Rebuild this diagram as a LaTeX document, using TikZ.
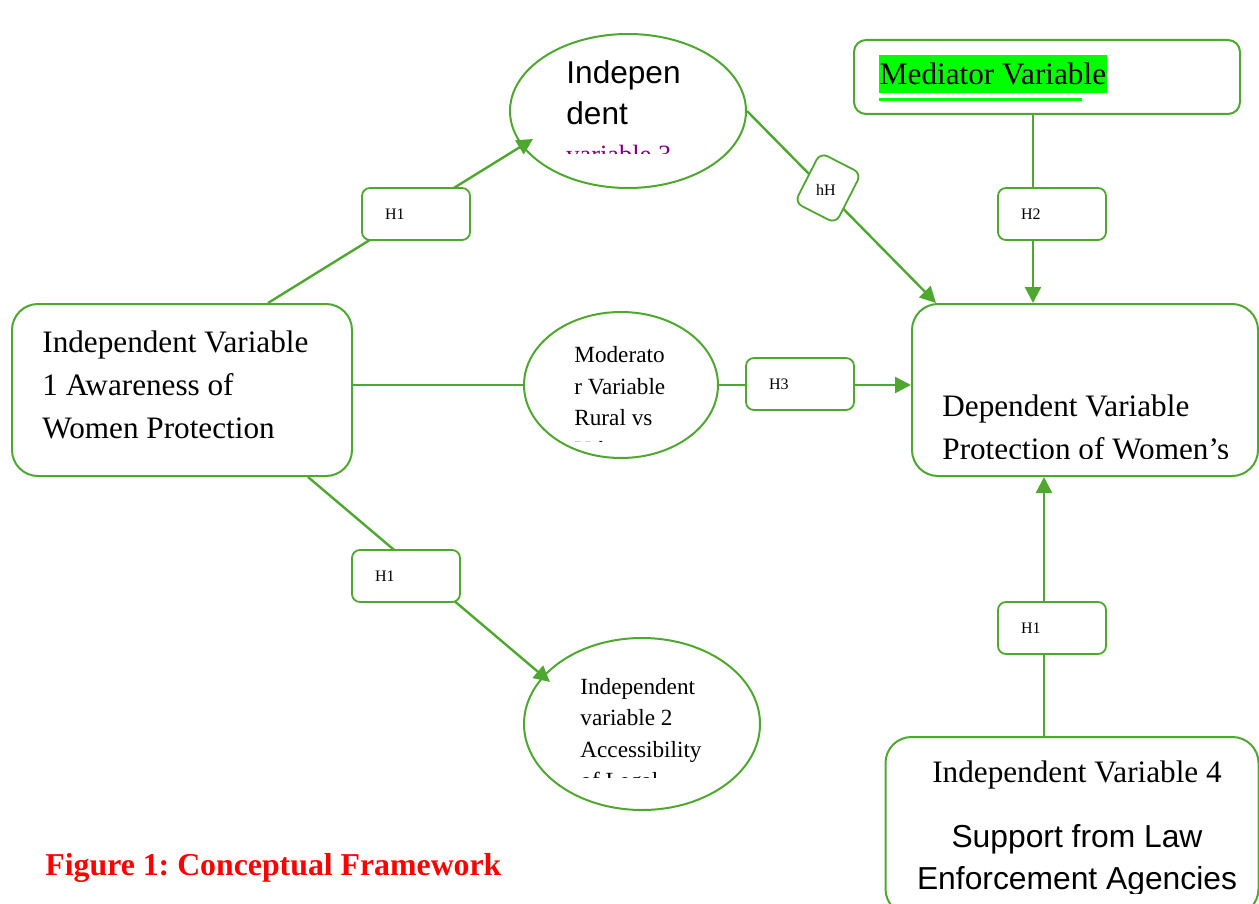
\documentclass[tikz,border=0pt]{standalone}
\usepackage{fontspec}
\setmainfont{Liberation Serif}
\newfontfamily\arialfont{Liberation Sans}
\usetikzlibrary{shapes.geometric,arrows.meta,calc}

\definecolor{framegreen}{RGB}{78,167,46}
\definecolor{markgreen}{RGB}{0,255,0}
\definecolor{labelpurple}{RGB}{128,0,128}

\tikzset{
  varbox/.style={draw=framegreen, line width=1pt, rounded corners=13pt, inner sep=0pt},
  varoval/.style={draw=framegreen, line width=1pt, ellipse, inner sep=0pt},
  hypbox/.style={draw=framegreen, line width=0.9pt, rounded corners=4pt, fill=white,
    minimum width=54pt, minimum height=26pt, text width=31pt, inner xsep=11.5pt,
    align=left, font=\fontsize{8}{9}\selectfont},
  link/.style={draw=framegreen, line width=1.2pt},
  linkarrow/.style={link, -{Triangle[length=8pt,width=8pt]}},
  bigtext/.style={align=left, inner sep=0pt, font=\fontsize{15.6}{21.5}\selectfont},
  smalltext/.style={align=left, inner sep=0pt, font=\fontsize{11.6}{15.8}\selectfont},
  sanstext/.style={align=left, inner sep=0pt, font=\arialfont\fontsize{15.8}{20.5}\selectfont},
}

\begin{document}
\begin{tikzpicture}[x=0.5pt,y=-0.5pt]
\useasboundingbox (0,0) rectangle (1259,904);

% variables
\node[varbox, minimum width=170pt, minimum height=86pt] (iva) at (182,390) {};
\node[varoval, minimum width=118pt, minimum height=77pt] (ivc) at (628,111) {};
\node[varoval, minimum width=97pt, minimum height=73pt] (mod) at (621,385) {};
\node[varoval, minimum width=118pt, minimum height=86pt] (ivb) at (642,724) {};
\node[varbox, rounded corners=6pt, minimum width=193pt, minimum height=37pt] (med) at (1047,77) {};
\node[varbox, minimum width=173pt, minimum height=86pt] (dv) at (1085,390) {};
\node[varbox, minimum width=186.5pt, minimum height=89pt] (ivd) at (1072,826) {};

% paths
\draw[linkarrow] ([xshift=43pt]iva.north) -- ($(ivc)+(-95,28)$);
\draw[linkarrow] ([xshift=63pt]iva.south) -- ($(ivb)+(-92,-42)$);
\draw[link] (mod.west -| iva.east) -- (mod.west);
\draw[linkarrow] (mod.east) -- (mod.east -| dv.west);
\draw[linkarrow] (ivc.east) -- ([xshift=12.5pt]dv.north west);
\draw[linkarrow] ([xshift=-7pt]med.south) -- ([xshift=-7pt]med.south |- dv.north);
\draw[linkarrow] ([xshift=-14pt]ivd.north) -- ([xshift=-14pt]ivd.north |- dv.south);

% hypotheses
\node[hypbox] (h1a) at (416,214) {H1};
\node[hypbox] (h1b) at (406,576) {H1};
\node[hypbox] (h2) at (1052,214) {H2};
\node[hypbox] (h3) at (800,384) {H3};
\node[hypbox] (h1c) at (1052,628) {H1};
\node[draw=framegreen, line width=0.9pt, rounded corners=4pt, fill=white,
  minimum width=23pt, minimum height=28pt, rotate=-27] (hhbox) at (828,188) {};
\node[font=\fontsize{8}{9}\selectfont, inner sep=0pt] (hh) at (826,190) {hH};

% texts
\node[bigtext, anchor=west] (ivatext) at (42,385) {Independent Variable\\1 Awareness of\\Women Protection};
\node[sanstext, anchor=west] (ivctext) at (566,93) {Indepen\\dent};
\begin{scope}
  \clip (500,0) rectangle (760,154);
  \node[bigtext, font=\fontsize{13.2}{16}\selectfont, text=labelpurple, anchor=base west] (ivcmore) at (566,163) {variable 3};
\end{scope}
\begin{scope}
  \clip (520,300) rectangle (720,441);
  \node[smalltext, anchor=west] (modtext) at (574,402) {Moderato\\r Variable\\Rural vs\\Urban};
\end{scope}
\begin{scope}
  \clip (520,630) rectangle (770,777);
  \node[smalltext, anchor=west] (ivbtext) at (580,736) {Independent\\variable 2\\Accessibility\\of Legal};
\end{scope}
\node[bigtext, fill=markgreen, inner xsep=0.5pt, minimum height=19pt] (medtext) at (993,74) {Mediator Variable};
\draw[markgreen, line width=1.6pt] ([yshift=-3.2pt]medtext.south west) -- ++(203,0);
\begin{scope}
  \clip (905,300) rectangle (1255,458);
  \node[bigtext, anchor=west] (dvtext) at (942,427) {Dependent Variable\\Protection of Women’s};
\end{scope}
\node[bigtext] (ivdtitle) at (1077,775) {Independent Variable 4};
\begin{scope}
  \clip (890,800) rectangle (1255,893);
  \node[sanstext, align=center, font=\arialfont\fontsize{15.9}{21}\selectfont] (ivdtext) at (1077,860) {Support from Law\\Enforcement Agencies};
\end{scope}

\node[anchor=west, inner sep=0pt, text=red, font=\bfseries\fontsize{15.9}{19}\selectfont] (caption) at (45,868) {\frenchspacing Figure 1: Conceptual Framework};
\end{tikzpicture}
\end{document}
